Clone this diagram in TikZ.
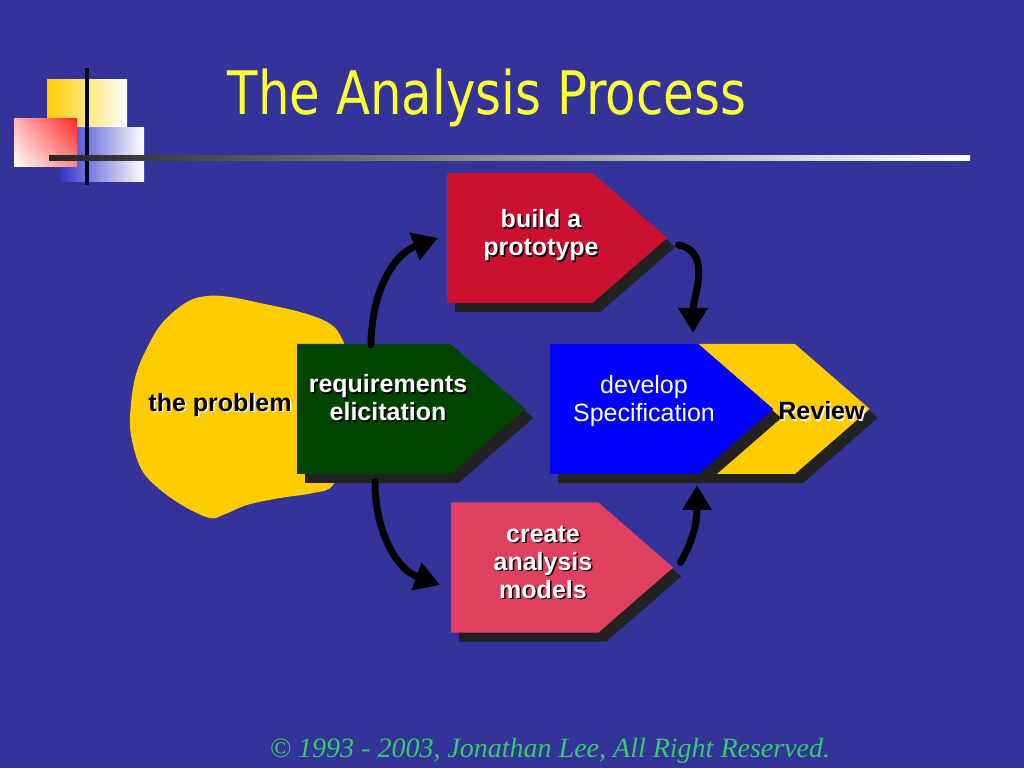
\documentclass[tikz,border=0pt]{standalone}
\usepackage{fontspec}
\setmainfont{Liberation Sans}
\newfontfamily\titlefont[FakeStretch=0.83]{DejaVu Sans}
\newfontfamily\footfont{Liberation Serif}
\usetikzlibrary{shapes.symbols, shadows, shadings, arrows.meta}

\definecolor{slidebg}{RGB}{51,51,153}
\definecolor{titleyellow}{RGB}{255,255,51}
\definecolor{blobyellow}{RGB}{255,204,0}
\definecolor{protored}{RGB}{204,16,48}
\definecolor{modelpink}{RGB}{224,64,96}
\definecolor{elicitgreen}{RGB}{0,68,0}
\definecolor{specblue}{RGB}{0,0,255}
\definecolor{footgreen}{RGB}{51,204,102}
\definecolor{boxshadow}{RGB}{34,34,34}
\definecolor{decoblue}{RGB}{51,51,204}
\definecolor{decored}{RGB}{255,40,40}

% text with a small offset shadow: name, centre, text colour, shadow colour, text
\newcommand\shadowlabel[5]{%
  \node[boxtext, text=#4] at ([shift={(1.5pt,-1.5pt)}]#2) {#5};
  \node[boxtext, text=#3] (#1) at (#2) {#5};}

\begin{document}
\begin{tikzpicture}[
    x=1pt, y=1pt,
    stage/.style={signal, signal to=east, signal pointer angle=82, draw=none,
        minimum height=130pt, inner sep=0pt, anchor=west,
        drop shadow={shadow xshift=8pt, shadow yshift=-9pt, fill=boxshadow, opacity=1}},
    boxtext/.style={font=\bfseries\fontsize{25}{28}\selectfont, align=center, inner sep=0pt},
    flow/.style={line width=7pt, line cap=round, -{Triangle[length=25pt, width=28pt]}}
]
    \useasboundingbox (0,0) rectangle (1024,768);
    \fill[slidebg] (0,0) rectangle (1024,768);

    % Corner decoration
    \shade[left color=blobyellow, middle color=blobyellow, right color=white] (47,640) rectangle (127,688);
    \shade[left color=decoblue, middle color=decoblue, right color=white] (60,586) rectangle (144,640);
    \shade[upper right=decored, lower left=white, upper left=decored!35!white, lower right=decored!55!white] (14,601) rectangle (77,649);
    \draw[line width=4pt, black!85!blue] (87,583) -- (87,700);
    \shade[left color=black!85, right color=white] (49,607.5) rectangle (970,612.5);

    % Title and footer
    \node[anchor=base, text=titleyellow, font=\titlefont\fontsize{60}{72}\selectfont] (title) at (487,653) {The Analysis Process};
    \node[anchor=base, text=footgreen, font=\footfont\itshape\fontsize{28}{32}\selectfont] (footer) at (550,11) {© 1993 - 2003, Jonathan Lee, All Right Reserved.};

    % The problem blob
    \fill[blobyellow] plot[smooth cycle, tension=0.6] coordinates {
        (187,466) (207,472) (230,471) (260,465) (300,456) (327,446) (340,433)
        (346,408) (346,318) (333,283) (313,275) (280,270) (247,263) (223,253)
        (210,250) (187,260) (163,276) (143,296) (133,323) (130,350) (135,390)
        (147,420) (163,446)};
    \shadowlabel{problem}{220,363}{black}{white}{the problem}

    % Stages
    \node[stage, fill=elicitgreen, minimum width=228pt] (elicit) at (297,359) {};
    \node[stage, fill=protored, minimum width=220pt] (proto) at (447,530) {};
    \node[stage, fill=modelpink, minimum width=222pt] (models) at (451,200.5) {};
    \node[stage, fill=blobyellow, signal from=west, minimum width=172pt, anchor=east] (review) at (870,359) {};
    \node[stage, fill=specblue, minimum width=223pt] (spec) at (550,359) {};

    % Labels
    \coordinate (elicitC) at ([shift={(91pt,11pt)}]elicit.west);
    \coordinate (protoC) at ([shift={(94pt,2.5pt)}]proto.west);
    \coordinate (modelsC) at ([shift={(92pt,5.5pt)}]models.west);
    \coordinate (specC) at ([shift={(94pt,8pt)}]spec.west);
    \coordinate (reviewC) at ([shift={(48pt,-2pt)}]spec.east);
    \shadowlabel{elicitT}{elicitC}{white}{black}{requirements\\elicitation}
    \shadowlabel{protoT}{protoC}{white}{black}{build a\\prototype}
    \shadowlabel{modelsT}{modelsC}{white}{black}{create\\analysis\\models}
    \node[boxtext, font=\fontsize{25}{28}\selectfont, text=white] (specT) at (specC) {develop\\Specification};
    \shadowlabel{reviewT}{reviewC}{black}{white}{Review}

    % Flow arrows
    \draw[flow] ([shift={(74pt,64pt)}]elicit.west) to[out=90, in=200] ([xshift=-9pt]proto.west);
    \draw[flow] ([shift={(11pt,-7pt)}]proto.east) to[out=-10, in=90] ([shift={(143pt,76pt)}]spec.west);
    \draw[flow] ([shift={(78pt,-73pt)}]elicit.west) to[out=-90, in=160] ([shift={(-11pt,-17.5pt)}]models.west);
    \draw[flow] ([shift={(7pt,5pt)}]models.east) to[out=60, in=-90] ([shift={(147pt,-76pt)}]spec.west);

\end{tikzpicture}
\end{document}
